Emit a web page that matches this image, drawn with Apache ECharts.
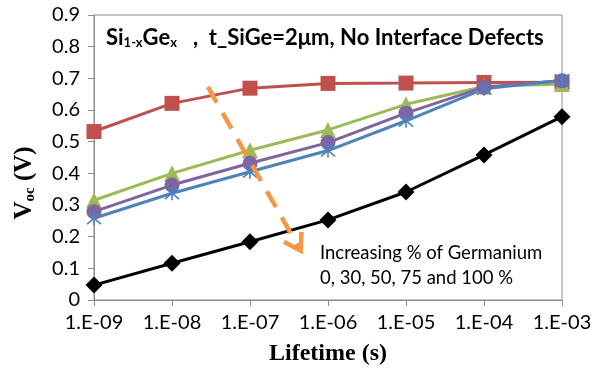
<!DOCTYPE html>
<html>
<head>
<meta charset="utf-8">
<script src="https://cdn.jsdelivr.net/npm/echarts@6/dist/echarts.min.js"></script>
<style>
  html, body { margin: 0; padding: 0; background: #fff; }
  #chart { width: 603px; height: 374px; }
</style>
</head>
<body>
<div id="chart"></div>
<script>
// Carrier lifetime as powers of ten (1.E-09 ... 1.E-03 s)
const lifetimeExp = [-9, -8, -7, -6, -5, -4, -3];

// Open-circuit voltage (V) for each germanium fraction
const vocGe0   = [0.532, 0.621, 0.669, 0.684, 0.685, 0.687, 0.688];
const vocGe30  = [0.315, 0.400, 0.473, 0.537, 0.618, 0.674, 0.682];
const vocGe50  = [0.279, 0.363, 0.432, 0.497, 0.590, 0.672, 0.692];
const vocGe75  = [0.258, 0.337, 0.405, 0.472, 0.566, 0.667, 0.694];
const vocGe100 = [0.047, 0.116, 0.184, 0.253, 0.341, 0.458, 0.579];

// Trend arrow, in axis units (lifetime exponent, Voc)
const arrowStart = [-7.54, 0.673];
const arrowEnd   = [-6.35, 0.155];

const FONT = 'Lato, "Open Sans", sans-serif';
const SERIF = '"Liberation Serif", "DejaVu Serif", serif';
const AXIS_GREY = '#8c8c8c';

const pairs = vals => lifetimeExp.map((x, i) => [x, vals[i]]);

// Asterisk marker drawn as strokes
const asterisk = 'path://M0,0L10,10M10,0L0,10M5,-1L5,11';

function lineSeries(name, vals, color, symbol, size, extra) {
  return Object.assign({
    name: name,
    type: 'line',
    data: pairs(vals),
    symbol: symbol,
    symbolSize: size,
    showSymbol: true,
    lineStyle: { color: color, width: 3 },
    itemStyle: { color: color },
    emphasis: { disabled: true },
    animation: false
  }, extra || {});
}

const chart = echarts.init(document.getElementById('chart'), null, { renderer: 'canvas' });

chart.setOption({
  animation: false,
  backgroundColor: '#fff',
  grid: {
    left: 94, right: 41, top: 15, bottom: 74,
    show: true, borderColor: AXIS_GREY, borderWidth: 1, backgroundColor: 'transparent'
  },
  title: {
    left: 106, top: 25, padding: 0,
    text: '{m|Si}{s|1-x}{m|Ge}{s|x}{m|   ,  t_SiGe=2μm, No Interface Defects}',
    textStyle: {
      rich: {
        m: { fontFamily: FONT, fontWeight: 'bold', fontSize: 22, color: '#000', lineHeight: 25 },
        s: { fontFamily: FONT, fontWeight: 'bold', fontSize: 13, color: '#000', lineHeight: 25, padding: [11, 0, 0, 0] }
      }
    }
  },
  xAxis: {
    type: 'value',
    min: -9, max: -3, interval: 1,
    axisLine: { show: true, onZero: false, lineStyle: { color: AXIS_GREY, width: 1 } },
    axisTick: { show: true, length: 6, lineStyle: { color: AXIS_GREY } },
    splitLine: { show: false },
    axisLabel: {
      margin: 13,
      fontFamily: FONT, fontSize: 20, color: '#000',
      formatter: v => '1.E-0' + Math.abs(v)
    },
    name: 'Lifetime (s)',
    nameLocation: 'middle',
    nameGap: 42,
    nameTextStyle: { fontFamily: SERIF, fontWeight: 'bold', fontSize: 24, color: '#000' }
  },
  yAxis: {
    type: 'value',
    min: 0, max: 0.9, interval: 0.1,
    axisLine: { show: true, lineStyle: { color: AXIS_GREY, width: 1 } },
    axisTick: { show: true, length: 6, lineStyle: { color: AXIS_GREY } },
    splitLine: { show: false },
    axisLabel: {
      margin: 14,
      fontFamily: FONT, fontSize: 20, color: '#000',
      formatter: v => (v === 0 ? '0' : v.toFixed(1))
    }
  },
  series: [
    lineSeries('0 %', vocGe0, '#C0504D', 'rect', 15),
    lineSeries('30 %', vocGe30, '#9BBB59', 'triangle', 16),
    lineSeries('50 %', vocGe50, '#8064A2', 'circle', 15),
    lineSeries('75 %', vocGe75, '#4F81BD', asterisk, 14, {
      itemStyle: { color: '#4F81BD', borderColor: '#4F81BD', borderWidth: 1.6 }
    }),
    lineSeries('100 %', vocGe100, '#000000', 'diamond', 17)
  ]
});

// Axis title for Voc, the trend arrow and its note
function drawOverlay() {
  const p0 = chart.convertToPixel({ gridIndex: 0 }, arrowStart);
  const p1 = chart.convertToPixel({ gridIndex: 0 }, arrowEnd);
  const dx = p1[0] - p0[0], dy = p1[1] - p0[1];
  const len = Math.sqrt(dx * dx + dy * dy);
  const ux = dx / len, uy = dy / len;
  const head = 19, ang = 32 * Math.PI / 180;
  const rot = (x, y, a) => [x * Math.cos(a) - y * Math.sin(a), x * Math.sin(a) + y * Math.cos(a)];
  const a1 = rot(-ux, -uy, ang), a2 = rot(-ux, -uy, -ang);
  const orange = '#F79646';

  chart.setOption({
    graphic: [
      {
        type: 'text',
        x: 25, y: 183, rotation: Math.PI / 2,
        style: {
          text: '{v|V}{s|oc}{v| (V)}',
          align: 'center', verticalAlign: 'middle',
          rich: {
            v: { fontFamily: SERIF, fontWeight: 'bold', fontSize: 25, color: '#000', lineHeight: 28 },
            s: { fontFamily: SERIF, fontWeight: 'bold', fontSize: 15, color: '#000', lineHeight: 28, padding: [10, 0, 0, 0] }
          }
        }
      },
      {
        type: 'polyline', z: 100,
        shape: { points: [p0, [p1[0] - ux * 3, p1[1] - uy * 3]] },
        style: { stroke: orange, lineWidth: 4.5, lineDash: [18, 12], fill: null }
      },
      {
        type: 'polyline', z: 100,
        shape: { points: [
          [p1[0] + a1[0] * head, p1[1] + a1[1] * head],
          p1,
          [p1[0] + a2[0] * head, p1[1] + a2[1] * head]
        ] },
        style: { stroke: orange, lineWidth: 4.5, fill: null, lineJoin: 'miter' }
      },
      {
        type: 'text',
        x: 320, y: 241,
        style: {
          text: 'Increasing % of Germanium\n0, 30, 50, 75 and 100 %',
          fontFamily: FONT, fontSize: 18.5, lineHeight: 25, fill: '#000'
        }
      }
    ]
  });
}
drawOverlay();
</script>
</body>
</html>
